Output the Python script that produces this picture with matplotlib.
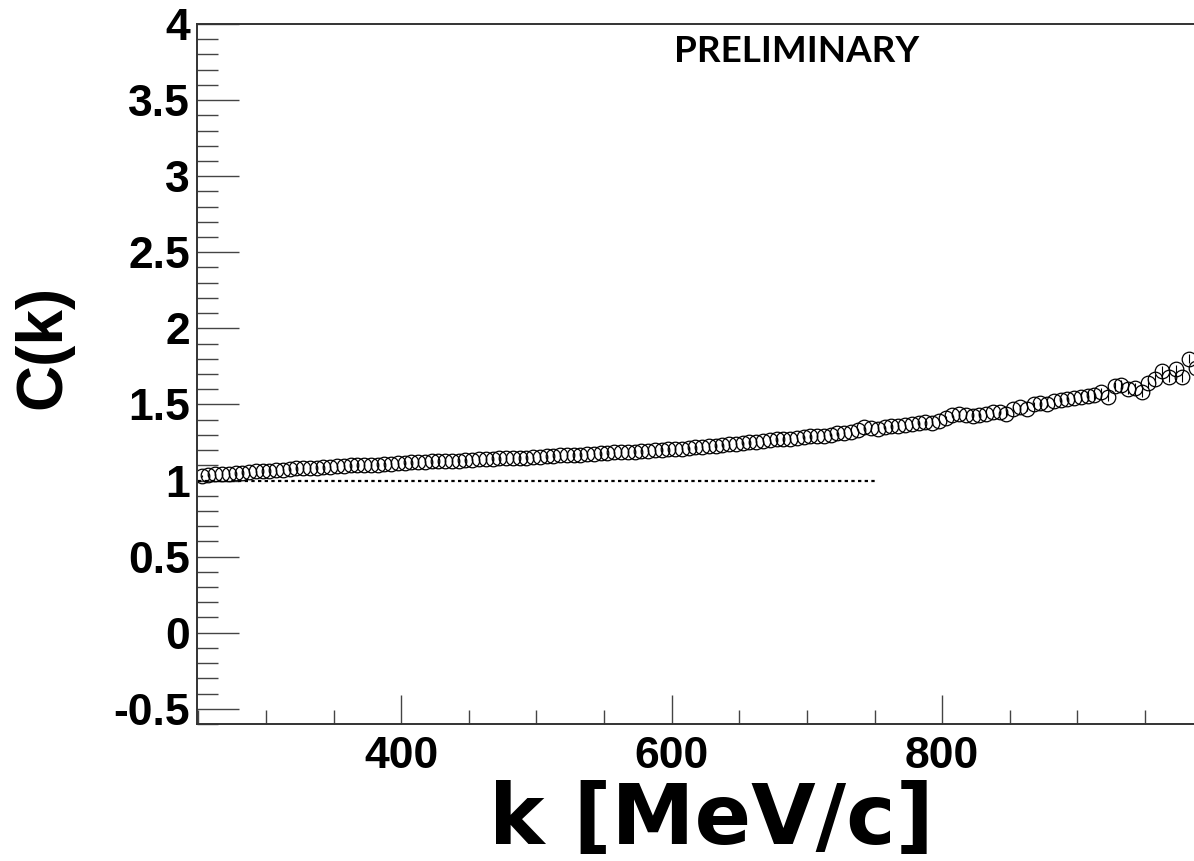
import numpy as np
import matplotlib.pyplot as plt
from matplotlib.ticker import MultipleLocator

# bin centres [MeV/c]
k = np.arange(252.5, 990, 5.0)

ck = [1.03, 1.035, 1.04, 1.04, 1.045, 1.05, 1.05, 1.055, 1.06, 1.06,
      1.065, 1.07, 1.07, 1.075, 1.08, 1.08, 1.085, 1.085, 1.09, 1.09,
      1.095, 1.095, 1.10, 1.10, 1.10, 1.105, 1.105, 1.11, 1.11, 1.115,
      1.115, 1.12, 1.12, 1.12, 1.125, 1.125, 1.13, 1.13, 1.13, 1.135,
      1.135, 1.14, 1.14, 1.14, 1.145, 1.145, 1.15, 1.15, 1.15, 1.155,
      1.155, 1.16, 1.16, 1.165, 1.165, 1.17, 1.17, 1.175, 1.175, 1.18,
      1.18, 1.185, 1.185, 1.19, 1.19, 1.195, 1.195, 1.20, 1.20, 1.205,
      1.21, 1.21, 1.215, 1.22, 1.22, 1.225, 1.23, 1.235, 1.24, 1.24,
      1.245, 1.25, 1.255, 1.26, 1.265, 1.27, 1.27, 1.275, 1.28, 1.285,
      1.29, 1.29, 1.295, 1.30, 1.31, 1.31, 1.32, 1.33, 1.35, 1.345,
      1.34, 1.35, 1.355, 1.36, 1.365, 1.37, 1.38, 1.385, 1.375, 1.39,
      1.41, 1.43, 1.44, 1.43, 1.425, 1.43, 1.44, 1.45, 1.45, 1.44,
      1.47, 1.48, 1.47, 1.50, 1.51, 1.50, 1.52, 1.53, 1.535, 1.54,
      1.55, 1.555, 1.56, 1.58, 1.55, 1.62, 1.63, 1.60, 1.61, 1.58,
      1.64, 1.67, 1.72, 1.68, 1.73, 1.68, 1.80, 1.74]

err = [0.004] * 70 + [0.008] * 40 + [0.015] * 20 + [0.03] * 18

ref_k = [250, 750]
ref_c = [1.0, 1.0]

fig = plt.figure(figsize=(11.94, 8.61), dpi=100)
ax = fig.add_axes([197/1194, 1 - 724/861, 1 - 197/1194 + 0.01, 700/861])

ax.errorbar(k, ck[:len(k)], yerr=err[:len(k)], fmt='o', mfc='none', mec='black',
            ecolor='black', ms=10.5, mew=0.9, elinewidth=0.8, capsize=0)
ax.plot(ref_k, ref_c, ls=(0, (1.5, 1.5)), color='black', lw=1.6)

ax.set_xlim(249, 995)
ax.set_ylim(-0.6, 4.0)
ax.spines['right'].set_visible(False)
for s in ax.spines.values():
    s.set_color('#333333')
    s.set_linewidth(1.4)

ax.xaxis.set_major_locator(MultipleLocator(200))
ax.xaxis.set_minor_locator(MultipleLocator(50))
ax.yaxis.set_major_locator(MultipleLocator(0.5))
ax.yaxis.set_minor_locator(MultipleLocator(0.1))
ax.yaxis.set_major_formatter(plt.FuncFormatter(lambda v, p: f'{v:g}'))
ax.tick_params(direction='in', which='major', length=21, width=1, color='#444444',
               top=False, right=False)
ax.tick_params(direction='in', which='minor', length=10, width=1, color='#444444',
               top=False, right=False)
ax.tick_params(axis='y', which='major', length=30)
ax.tick_params(axis='y', which='minor', length=15)
ax.tick_params(axis='x', which='major', pad=9)
ax.tick_params(axis='y', which='major', pad=5)
for lab in ax.get_xticklabels() + ax.get_yticklabels():
    lab.set_fontfamily('Liberation Sans')
    lab.set_fontweight('bold')
    lab.set_fontsize(32)

fig.text(711/1194, 1 - 820/861, 'k [MeV/c]', ha='center', va='center',
         fontsize=60, fontweight='bold', family='DejaVu Sans')
fig.text(43/1194, 1 - 347/861, 'C(k)', ha='center', va='center', rotation=90,
         fontsize=46, fontweight='bold', family='Liberation Sans')
ax.text(797/1194, 1 - 52/861, 'PRELIMINARY', transform=fig.transFigure,
        ha='center', va='center', fontsize=26.5, fontweight='bold', family='Lato')

fig.savefig('out.png', dpi=100)
